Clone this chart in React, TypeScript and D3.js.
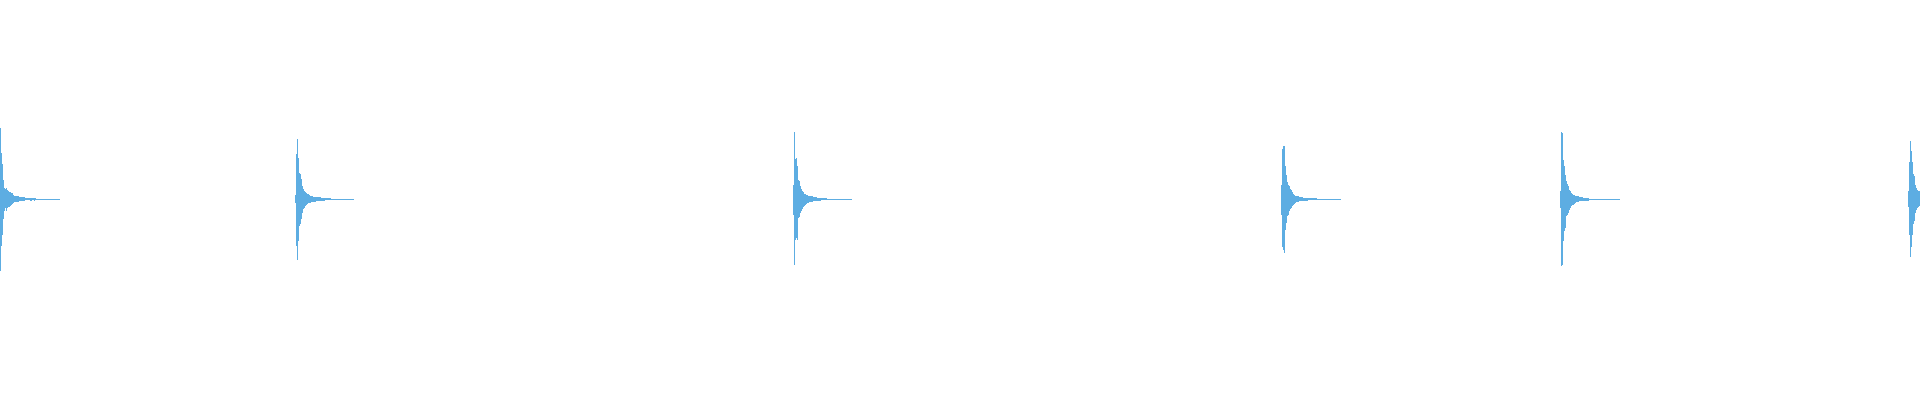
import React, { useEffect, useRef } from "react";
import * as d3 from "d3";

// each burst: first pixel column, total length in columns, then per-column max / min
const burstStarts = [0, 295, 793, 1281, 1560, 1908];
const burstLengths = [60, 59, 59, 60, 60, 12];

const burstHi = [
  [0.71, 0.46, 0.35, 0.19, 0.11, 0.1, 0.11, 0.09, 0.08, 0.07, 0.07, 0.06, 0.06, 0.04, 0.03, 0.03, 0.03, 0.03, 0.03, 0.02, 0.02, 0.02, 0.02, 0.02, 0.02, 0.01, 0.01, 0.01, 0.01, 0.01, 0.015, 0.015, 0.01, 0.01, 0.015, 0.01],
  [0.04, 0.45, 0.6, 0.41, 0.26, 0.25, 0.2, 0.13, 0.1, 0.08, 0.07, 0.06, 0.05, 0.05, 0.04, 0.03, 0.03, 0.03, 0.02, 0.02, 0.02, 0.02, 0.02, 0.02, 0.02, 0.02, 0.015, 0.015, 0.015, 0.015, 0.01, 0.01, 0.01, 0.01, 0.01, 0.01],
  [0.14, 0.67, 0.4, 0.41, 0.33, 0.19, 0.18, 0.13, 0.1, 0.08, 0.07, 0.05, 0.05, 0.04, 0.04, 0.03, 0.03, 0.03, 0.03, 0.03, 0.02, 0.02, 0.02, 0.02, 0.015, 0.015, 0.015, 0.015, 0.01, 0.01, 0.01, 0.01, 0.01, 0.01],
  [0.14, 0.5, 0.53, 0.53, 0.33, 0.24, 0.17, 0.14, 0.13, 0.1, 0.09, 0.07, 0.05, 0.04, 0.03, 0.03, 0.03, 0.03, 0.02, 0.02, 0.02, 0.02, 0.015, 0.015, 0.015, 0.015, 0.015, 0.01, 0.01, 0.01, 0.01, 0.01, 0.01, 0.01, 0.01, 0.01],
  [0.08, 0.67, 0.66, 0.39, 0.33, 0.24, 0.18, 0.15, 0.13, 0.09, 0.08, 0.06, 0.05, 0.04, 0.04, 0.03, 0.03, 0.03, 0.03, 0.02, 0.02, 0.02, 0.02, 0.01, 0.01, 0.01, 0.01, 0.01, 0.01],
  [0.08, 0.37, 0.58, 0.48, 0.37, 0.25, 0.23, 0.14, 0.11, 0.09, 0.08, 0.08],
];

const burstLo = [
  [-0.72, -0.47, -0.36, -0.2, -0.12, -0.09, -0.12, -0.09, -0.08, -0.08, -0.07, -0.06, -0.05, -0.04, -0.03, -0.03, -0.03, -0.03, -0.03, -0.02, -0.02, -0.02, -0.02, -0.02, -0.02, -0.01, -0.01, -0.01, -0.01, -0.01, -0.02, -0.02, -0.01, -0.01, -0.015, -0.01],
  [-0.04, -0.47, -0.61, -0.42, -0.27, -0.25, -0.2, -0.14, -0.1, -0.09, -0.07, -0.06, -0.05, -0.04, -0.04, -0.04, -0.03, -0.03, -0.03, -0.03, -0.03, -0.02, -0.02, -0.02, -0.02, -0.02, -0.015, -0.015, -0.015, -0.015, -0.01, -0.01, -0.01, -0.01, -0.01, -0.01],
  [-0.16, -0.66, -0.41, -0.39, -0.41, -0.19, -0.18, -0.14, -0.12, -0.1, -0.08, -0.07, -0.06, -0.05, -0.04, -0.04, -0.03, -0.03, -0.03, -0.03, -0.02, -0.02, -0.02, -0.02, -0.015, -0.015, -0.015, -0.015, -0.01, -0.01, -0.01, -0.01, -0.01, -0.01],
  [-0.16, -0.48, -0.51, -0.54, -0.31, -0.24, -0.17, -0.16, -0.12, -0.1, -0.09, -0.07, -0.06, -0.05, -0.04, -0.03, -0.03, -0.03, -0.02, -0.02, -0.02, -0.02, -0.015, -0.015, -0.015, -0.015, -0.015, -0.01, -0.01, -0.01, -0.01, -0.01, -0.01, -0.01, -0.01, -0.01],
  [-0.09, -0.67, -0.66, -0.42, -0.32, -0.29, -0.17, -0.16, -0.14, -0.11, -0.09, -0.07, -0.06, -0.06, -0.05, -0.04, -0.03, -0.03, -0.03, -0.02, -0.02, -0.02, -0.02, -0.02, -0.02, -0.02, -0.02, -0.02, -0.02],
  [-0.08, -0.36, -0.58, -0.48, -0.36, -0.25, -0.22, -0.14, -0.11, -0.09, -0.08, -0.07],
];

const tailLevel = 0.005;

const Waveform: React.FC = () => {
  const svgRef = useRef(null);

  useEffect(() => {
    const width = 1920;
    const height = 400;

    const x = d3.scaleLinear().domain([0, width]).range([0, width]);
    const y = d3.scaleLinear().domain([-1, 1]).range([299, 99]);

    const svg = d3
      .select(svgRef.current)
      .attr("width", width)
      .attr("height", height);

    const columns: { i: number; hi: number; lo: number }[] = [];
    burstStarts.forEach((start, b) => {
      for (let k = 0; k < burstLengths[b]; k++) {
        const hi = k < burstHi[b].length ? burstHi[b][k] : tailLevel;
        const lo = k < burstLo[b].length ? burstLo[b][k] : -tailLevel;
        columns.push({ i: start + k, hi, lo });
      }
    });

    svg
      .append("g")
      .attr("shape-rendering", "crispEdges")
      .selectAll("rect")
      .data(columns)
      .enter()
      .append("rect")
      .attr("x", (d) => x(d.i))
      .attr("width", x(1) - x(0))
      .attr("y", (d) => y(d.hi))
      .attr("height", (d) => Math.max(1, y(d.lo) - y(d.hi)))
      .style("fill", "#5dade2");

    return () => {
      svg.selectAll("*").remove();
    };
  }, []);

  return (
    <svg
      ref={svgRef}
      style={{ position: "absolute", left: 0, top: 0, display: "block" }}
    />
  );
};

export default function App() {
  return <Waveform />;
}
